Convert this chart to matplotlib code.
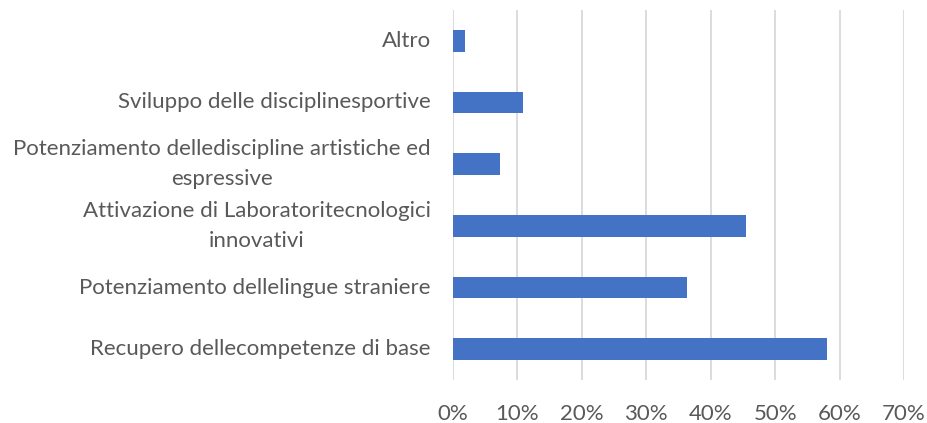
import numpy as np
import matplotlib.pyplot as plt
from matplotlib.ticker import PercentFormatter

categories = ["Recupero dellecompetenze di base",
              "Potenziamento dellelingue straniere",
              "Attivazione di Laboratoritecnologici\ninnovativi",
              "Potenziamento delledisciplines artistiche ed\nespressive".replace("disciplines", "discipline"),
              "Sviluppo delle disciplinesportive",
              "Altro"]
values = [0.581, 0.363, 0.454, 0.073, 0.109, 0.018]
ticks = [0, 0.1, 0.2, 0.3, 0.4, 0.5, 0.6, 0.7]

plt.rcParams['font.family'] = ['Lato', 'DejaVu Sans']

fig = plt.figure(figsize=(9.28, 4.23), dpi=100)
ax = fig.add_axes([453/928, 1 - 380/423, (904 - 453)/928, 370/423])

y = np.arange(len(categories))
ax.barh(y, values, height=0.35, color="#4472C4", zorder=3)

ax.set_xlim(0, 0.7)
ax.set_ylim(-0.5, len(categories) - 0.5)
ax.set_xticks(ticks)
ax.xaxis.set_major_formatter(PercentFormatter(1.0, decimals=0))
ax.set_yticks(y)
ax.set_yticklabels(categories)

ax.grid(axis="x", color="#d9d9d9", linewidth=1.3, zorder=0)
for s in ax.spines.values():
    s.set_visible(False)
ax.tick_params(axis="both", length=0, labelsize=16, colors="#595959")
ax.tick_params(axis="y", pad=16)
ax.tick_params(axis="x", pad=17)
plt.setp(ax.get_yticklabels(), multialignment="center", linespacing=1.65,
         verticalalignment="center")

fig.savefig("out.png", dpi=100)
